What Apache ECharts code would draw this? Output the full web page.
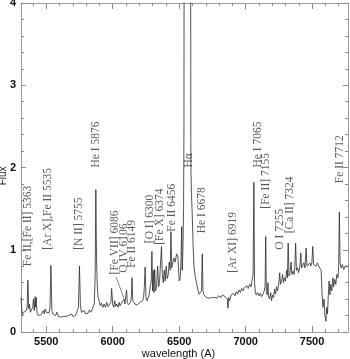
<!DOCTYPE html>
<html lang="en" style="height: 100%">

<head>
  <meta charset="utf-8" />
</head>

<body style="height: 100%; margin: 0; background: #fff">
  <div id="container" style="width: 350px; height: 359px"></div>

  <script type="text/javascript" src="https://fastly.jsdelivr.net/npm/echarts@6.0.0/dist/echarts.min.js"></script>

  <script type="text/javascript">
    // spectrum
    var wavelengths = [
      5310, 5315, 5320, 5330, 5340, 5350, 5356, 5362, 5368, 5374, 5380, 5390, 5398, 5404, 5410, 5416, 5420, 5425, 5430, 5440,
      5450, 5460, 5470, 5478, 5485, 5492, 5500, 5510, 5520, 5528, 5535, 5542, 5550, 5560, 5570, 5580, 5590, 5600, 5610, 5620,
      5630, 5640, 5650, 5660, 5670, 5680, 5690, 5700, 5710, 5720, 5730, 5742, 5750, 5757, 5765, 5775, 5785, 5795, 5805, 5815,
      5825, 5835, 5845, 5855, 5862, 5868, 5873, 5878, 5884, 5890, 5898, 5906, 5915, 5925, 5935, 5945, 5955, 5965, 5975, 5980,
      5986, 5992, 6000, 6008, 6015, 6022, 6030, 6040, 6048, 6055, 6065, 6075, 6085, 6092, 6098, 6104, 6110, 6118, 6126, 6134,
      6140, 6145, 6151, 6158, 6166, 6175, 6185, 6195, 6205, 6215, 6225, 6232, 6238, 6244, 6250, 6258, 6266, 6274, 6282, 6290,
      6295, 6300, 6305, 6310, 6316, 6322, 6330, 6338, 6345, 6352, 6360, 6367, 6373, 6380, 6388, 6395, 6402, 6410, 6418, 6425,
      6432, 6438, 6444, 6452, 6460, 6470, 6480, 6490, 6500, 6508, 6514, 6519, 6523, 6528, 6533, 6536, 6537, 6562, 6586, 6588,
      6592, 6598, 6605, 6612, 6620, 6630, 6640, 6650, 6660, 6668, 6674, 6679, 6686, 6695, 6705, 6715, 6725, 6735, 6745, 6755,
      6765, 6775, 6785, 6795, 6805, 6815, 6825, 6835, 6845, 6855, 6862, 6867, 6872, 6880, 6890, 6900, 6910, 6920, 6930, 6940,
      6950, 6960, 6970, 6980, 6990, 7000, 7010, 7020, 7030, 7040, 7050, 7056, 7062, 7067, 7073, 7080, 7090, 7100, 7110, 7120,
      7130, 7140, 7146, 7151, 7156, 7162, 7168, 7172, 7180, 7188, 7195, 7202, 7210, 7218, 7225, 7232, 7240, 7250, 7256, 7262,
      7270, 7278, 7285, 7292, 7300, 7308, 7314, 7320, 7326, 7334, 7342, 7348, 7356, 7364, 7370, 7376, 7382, 7390, 7398, 7408,
      7415, 7421, 7430, 7438, 7446, 7455, 7461, 7468, 7476, 7484, 7490, 7498, 7505, 7511, 7520, 7530, 7540, 7550, 7560, 7568,
      7575, 7582, 7590, 7596, 7604, 7610, 7616, 7622, 7628, 7634, 7640, 7648, 7656, 7662, 7670, 7678, 7686, 7694, 7700, 7705,
      7710, 7718, 7728, 7738, 7748, 7758, 7770
    ];
    var fluxes = [
      0.42, 0.30, 0.21, 0.24, 0.22, 0.26, 0.30, 0.63, 0.28, 0.34, 0.24, 0.22, 0.30, 0.40, 0.26, 0.43, 0.30, 0.42, 0.24, 0.20,
      0.19, 0.21, 0.20, 0.26, 0.22, 0.28, 0.24, 0.22, 0.23, 0.30, 0.81, 0.26, 0.22, 0.24, 0.20, 0.24, 0.19, 0.21, 0.18, 0.20,
      0.19, 0.17, 0.19, 0.18, 0.20, 0.18, 0.22, 0.19, 0.21, 0.20, 0.22, 0.30, 0.80, 0.32, 0.24, 0.23, 0.26, 0.22, 0.24, 0.23,
      0.27, 0.24, 0.27, 0.26, 0.35, 0.70, 1.73, 0.90, 0.55, 0.42, 0.38, 0.32, 0.35, 0.30, 0.34, 0.30, 0.36, 0.31, 0.33, 0.30,
      0.36, 0.53, 0.33, 0.30, 0.38, 0.31, 0.34, 0.30, 0.36, 0.32, 0.35, 0.33, 0.40, 0.34, 0.36, 0.51, 0.36, 0.33, 0.35, 0.36,
      0.42, 0.66, 0.38, 0.36, 0.34, 0.35, 0.33, 0.34, 0.36, 0.35, 0.38, 0.42, 0.55, 0.79, 0.42, 0.38, 0.40, 0.45, 0.55, 0.62,
      0.98, 0.50, 0.75, 0.48, 0.76, 0.50, 0.55, 0.80, 0.55, 0.60, 0.85, 1.04, 0.70, 0.60, 0.75, 0.62, 0.80, 0.65, 0.70, 0.85,
      0.75, 1.22, 0.78, 0.80, 0.90, 0.85, 0.95, 0.92, 0.62, 0.65, 0.90, 1.28, 0.75, 1.00, 1.50, 2.50, 5.00, 8.00, 5.00, 2.00,
      1.70, 1.44, 1.04, 0.79, 0.68, 0.60, 0.52, 0.46, 0.44, 0.50, 0.95, 0.50, 0.45, 0.44, 0.42, 0.44, 0.41, 0.43, 0.42, 0.44,
      0.42, 0.43, 0.41, 0.44, 0.43, 0.42, 0.45, 0.44, 0.43, 0.44, 0.40, 0.29, 0.42, 0.38, 0.45, 0.43, 0.47, 0.44, 0.49, 0.46,
      0.51, 0.48, 0.53, 0.50, 0.54, 0.52, 0.56, 0.53, 0.58, 0.55, 0.57, 0.70, 1.82, 0.60, 0.48, 0.45, 0.48, 0.44, 0.47, 0.43,
      0.46, 0.50, 0.55, 1.16, 0.48, 0.45, 0.60, 0.44, 0.40, 0.48, 0.38, 0.45, 0.42, 0.52, 0.46, 0.55, 0.50, 0.60, 0.72, 0.58,
      0.62, 0.70, 0.60, 0.66, 0.62, 0.75, 0.66, 1.08, 0.68, 0.72, 0.85, 0.70, 0.74, 0.70, 0.80, 1.08, 0.75, 0.78, 0.72, 0.80,
      0.96, 0.78, 0.76, 0.84, 0.78, 1.02, 0.80, 0.82, 0.78, 0.84, 0.80, 0.84, 1.04, 0.82, 0.84, 0.80, 0.84, 0.80, 0.82, 0.75,
      0.45, 0.30, 0.40, 0.20, 0.13, 0.30, 0.22, 0.45, 0.62, 0.45, 0.58, 0.50, 0.66, 0.55, 0.64, 0.58, 0.70, 0.66, 0.80, 1.46,
      0.85, 0.78, 0.82, 0.76, 0.80, 0.78, 0.80
    ];

    // line identifications: text, wavelength and flux where the text starts
    var lineNames = [
      "Fe II,[Fe II] 5363", "[Ar X],Fe II 5535", "[N II] 5755", "He I 5876", "[Fe VII] 6086",
      "O IV 6106", "Fe II 6149", "[O I] 6300", "[Fe X] 6374", "Fe II 6456", "H\u03b1",
      "He I 6678", "[Ar XI] 6919", "He I 7065", "[Fe II] 7155", "O I 7255", "[Ca II] 7324", "Fe II 7712"
    ];
    var lineX = [5365, 5515, 5747, 5874, 6018, 6085, 6145, 6280, 6355, 6445, 6575, 6670, 6903, 7090, 7150, 7255, 7330, 7712];
    var lineY = [0.80, 1.00, 1.00, 2.00, 0.70, 0.72, 0.78, 1.08, 1.06, 1.22, 2.00, 1.20, 0.72, 2.00, 1.50, 1.00, 1.20, 1.81];

    // pointer from [Fe VII] 6086 down to the spectrum
    var pointerX = [6025, 6085];
    var pointerY = [0.67, 0.41];

    var majorX = [5500, 6000, 6500, 7000, 7500];
    var minorX = [5400, 5600, 5700, 5800, 5900, 6100, 6200, 6300, 6400, 6600, 6700, 6800, 6900,
      7100, 7200, 7300, 7400, 7600, 7700];

    var dom = document.getElementById("container");
    var myChart = echarts.init(dom, null, { renderer: "canvas" });

    var frame = { show: true, lineStyle: { color: "#9a9a9a", width: 1 } };
    var tickStyle = { color: "#8a8a8a", width: 1 };
    var labelFont = { color: "#111", fontSize: 11, fontFamily: "Liberation Sans", fontWeight: "bold" };

    function xAx(pos, ticks, len, labels, line) {
      return {
        type: "value", min: 5310, max: 7770, position: pos,
        axisLine: line ? frame : { show: false },
        splitLine: { show: false },
        axisTick: { show: true, inside: true, length: len, customValues: ticks, lineStyle: tickStyle },
        axisLabel: labels ? Object.assign({
          show: true, margin: 4, customValues: ticks,
          formatter: function (v) { return String(v); }
        }, labelFont) : { show: false },
        name: labels ? "wavelength (A)" : "",
        nameLocation: "middle", nameGap: 16, nameMoveOverlap: false,
        nameTextStyle: { color: "#111", fontSize: 11, fontFamily: "Liberation Sans", padding: [0, 12, 0, 0] }
      };
    }
    function yAx(pos, labels) {
      return {
        type: "value", min: 0, max: 4, interval: 1, position: pos,
        axisLine: frame,
        splitLine: { show: false },
        axisTick: { show: true, inside: true, length: 5, lineStyle: tickStyle },
        minorTick: { show: true, splitNumber: 5, length: 3, lineStyle: tickStyle },
        axisLabel: labels ? Object.assign({ show: true, margin: 5 }, labelFont) : { show: false },
        // trailing spaces push the word a little below the middle, as in the original
        name: labels ? "Flux      " : "",
        nameLocation: "middle", nameGap: 13, nameMoveOverlap: false,
        nameTextStyle: { color: "#222", fontSize: 10, fontFamily: "Liberation Sans" }
      };
    }

    var spectrum = wavelengths.map(function (w, i) { return [w, fluxes[i]]; });
    var marks = lineNames.map(function (n, i) { return { name: n, value: [lineX[i], lineY[i]] }; });
    var pointer = pointerX.map(function (w, i) { return [w, pointerY[i]]; });

    var option = {
      animation: false,
      grid: { left: 21, right: 2, top: 3, bottom: 27, containLabel: false, outerBoundsMode: "none" },
      xAxis: [
        xAx("bottom", majorX, 6, true, true),
        xAx("bottom", minorX, 3, false, false),
        xAx("top", majorX, 6, false, true),
        xAx("top", minorX, 3, false, false)
      ],
      yAxis: [yAx("left", true), yAx("right", false)],
      series: [
        {
          type: "line", data: spectrum, showSymbol: false, clip: true,
          lineStyle: { color: "#2a2a2a", width: 0.8 }
        },
        {
          type: "line", data: pointer, showSymbol: false,
          lineStyle: { color: "#555", width: 0.7 }
        },
        {
          type: "scatter", data: marks, symbolSize: 0,
          label: {
            show: true, formatter: "{b}", rotate: 90, position: [0, 0],
            align: "left", verticalAlign: "middle",
            color: "#333", fontSize: 11.5, fontFamily: "Liberation Serif"
          }
        }
      ]
    };

    myChart.setOption(option);
  </script>
</body>

</html>
